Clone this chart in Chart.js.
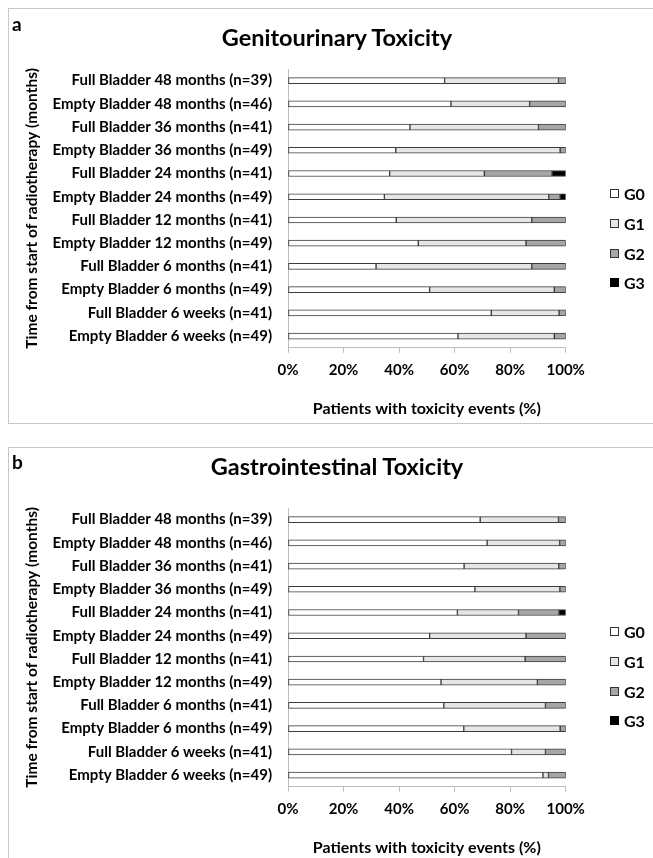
<!DOCTYPE html>
<html>
<head>
<meta charset="utf-8">
<title>Toxicity</title>
<script src="https://cdn.jsdelivr.net/npm/chart.js@4.4.1/dist/chart.umd.min.js"></script>
<style>
  html, body { margin: 0; padding: 0; background: #fff; }
  body { width: 653px; height: 858px; position: relative; overflow: hidden; font-family: Lato, 'Open Sans', sans-serif; color: #000; }
  .panel { position: absolute; left: 8px; width: 700px; border: 1px solid #c8c8c8; }
  .panel canvas { position: absolute; left: 0; top: 0; }
  .tag { position: absolute; left: 3px; font-weight: 700; font-size: 19px; line-height: 22px; }
  .title { position: absolute; left: 0; width: 656px; text-align: center; font-weight: 700; font-size: 23.5px; line-height: 26px; }
  .legend { position: absolute; left: 601px; font-weight: 700; font-size: 16px; }
  .legend .item { height: 29.7px; display: flex; align-items: center; }
  .legend .box { width: 7px; height: 7px; border: 1px solid #333; margin-right: 5px; }
</style>
</head>
<body>

<div class="panel" id="panelA" style="top:8px; height:414px;">
  <canvas id="chartA" width="644" height="413"></canvas>
  <div class="tag" style="top:4px;">a</div>
  <div class="title" style="top:15px;">Genitourinary Toxicity</div>
  <div class="legend" id="legendA" style="top:170px;"></div>
</div>

<div class="panel" id="panelB" style="top:447px; height:420px;">
  <canvas id="chartB" width="644" height="413"></canvas>
  <div class="tag" style="top:3px;">b</div>
  <div class="title" style="top:5px;">Gastrointestinal Toxicity</div>
  <div class="legend" id="legendB" style="top:169px;"></div>
</div>

<script>
// categories, top to bottom
const categories = [
  'Full Bladder 48 months (n=39)',
  'Empty Bladder 48 months (n=46)',
  'Full Bladder 36 months (n=41)',
  'Empty Bladder 36 months (n=49)',
  'Full Bladder 24 months (n=41)',
  'Empty Bladder 24 months (n=49)',
  'Full Bladder 12 months (n=41)',
  'Empty Bladder 12 months (n=49)',
  'Full Bladder 6 months (n=41)',
  'Empty Bladder 6 months (n=49)',
  'Full Bladder 6 weeks (n=41)',
  'Empty Bladder 6 weeks (n=49)'
];
const grades = ['G0', 'G1', 'G2', 'G3'];

// Genitourinary (%)
const guG0 = [56.4, 58.7, 43.9, 38.8, 36.6, 34.7, 39.0, 46.9, 31.7, 51.0, 73.2, 61.2];
const guG1 = [41.0, 28.3, 46.3, 59.2, 34.1, 59.2, 48.8, 38.8, 56.1, 44.9, 24.4, 34.7];
const guG2 = [2.6, 13.0, 9.8, 2.0, 24.4, 4.1, 12.2, 14.3, 12.2, 4.1, 2.4, 4.1];
const guG3 = [0, 0, 0, 0, 4.9, 2.0, 0, 0, 0, 0, 0, 0];

// Gastrointestinal (%)
const giG0 = [69.2, 71.7, 63.4, 67.3, 61.0, 51.0, 48.8, 55.1, 56.1, 63.3, 80.5, 91.8];
const giG1 = [28.2, 26.1, 34.1, 30.6, 22.0, 34.7, 36.6, 34.7, 36.6, 34.7, 12.2, 2.0];
const giG2 = [2.6, 2.2, 2.5, 2.1, 14.6, 14.3, 14.6, 10.2, 7.3, 2.0, 7.3, 6.2];
const giG3 = [0, 0, 0, 0, 2.4, 0, 0, 0, 0, 0, 0, 0];

const xTickStep = 20;

const gradeColors = ['#ffffff', '#e6e6e6', '#a8a5a5', '#000000'];
const FONT = "Lato, 'Open Sans', sans-serif";

const buildConfig = (series) => {
  return {
    type: 'bar',
    data: {
      labels: categories,
      datasets: series.map((values, i) => ({
        label: grades[i],
        data: values,
        backgroundColor: gradeColors[i],
        borderColor: '#3c3c3c',
        borderWidth: 1,
        borderSkipped: false,
        barThickness: 6,
      })),
    },
    options: {
      indexAxis: 'y',
      responsive: false,
      animation: false,
      layout: {
        padding: { left: 0, right: 87.3, top: 60, bottom: 0 },
      },
      plugins: {
        legend: { display: false },  // legend is drawn in html on the right
        tooltip: { enabled: false },
      },
      scales: {
        x: {
          stacked: true,
          min: 0,
          max: 100,
          ticks: {
            stepSize: xTickStep,
            callback: (v) => v + '%',
            color: '#000',
            padding: 8.3,
            font: { family: FONT, size: 15, weight: 700 },
          },
          grid: {
            drawOnChartArea: false,
            tickLength: 5,
            color: '#bdbdbd',
          },
          border: { color: '#bdbdbd' },
          title: {
            display: true,
            text: 'Patients with toxicity events (%)',
            color: '#000',
            font: { family: FONT, size: 16, weight: 700 },
            padding: { top: 12.1, bottom: 3.4 },
          },
        },
        y: {
          stacked: true,
          grid: { display: false },
          border: { color: '#bdbdbd' },
          ticks: {
            color: '#000',
            padding: 8,
            font: { family: FONT, size: 15, weight: 700 },
          },
          title: {
            display: true,
            text: 'Time from start of radiotherapy (months)',
            color: '#000',
            font: { family: FONT, size: 15.5, weight: 700 },
            padding: { top: 13.7, bottom: 0 },
          },
          afterFit: (scale) => { scale.width = 279; },
        },
      },
    },
  };
};

const buildLegend = (el) => {
  grades.forEach((g, i) => {
    const item = document.createElement('div');
    item.className = 'item';
    const box = document.createElement('span');
    box.className = 'box';
    box.style.background = gradeColors[i];
    if (i === 3) box.style.borderColor = '#000';
    item.appendChild(box);
    item.appendChild(document.createTextNode(g));
    el.appendChild(item);
  });
};

document.addEventListener('DOMContentLoaded', function () {
  new Chart(document.getElementById('chartA').getContext('2d'), buildConfig([guG0, guG1, guG2, guG3]));
  new Chart(document.getElementById('chartB').getContext('2d'), buildConfig([giG0, giG1, giG2, giG3]));
  buildLegend(document.getElementById('legendA'));
  buildLegend(document.getElementById('legendB'));
});
</script>
</body>
</html>
